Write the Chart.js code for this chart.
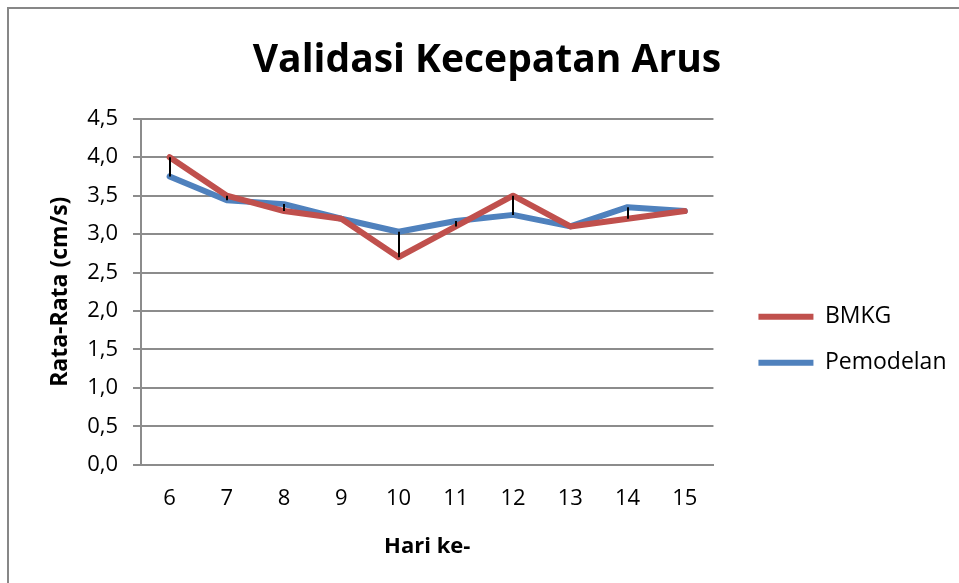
<!DOCTYPE html>
<html>
<head>
<meta charset="utf-8">
<script src="https://cdn.jsdelivr.net/npm/chart.js@4.4.1/dist/chart.umd.min.js"></script>
<style>
  html, body { margin: 0; padding: 0; background: #fff; }
  #wrap { width: 959px; height: 583px; }
</style>
</head>
<body>
<div id="wrap"><canvas id="c" width="959" height="583"></canvas></div>
<script>
const categories = ['6', '7', '8', '9', '10', '11', '12', '13', '14', '15'];
const bmkg       = [4.0, 3.5, 3.3, 3.2, 2.7, 3.1, 3.5, 3.1, 3.2, 3.3];
const pemodelan  = [3.75, 3.44, 3.39, 3.2, 3.03, 3.17, 3.25, 3.1, 3.35, 3.3];
const titleText = 'Validasi Kecepatan Arus';
const yTitle = 'Rata-Rata (cm/s)';
const xTitle = 'Hari ke-';

const FONT = "'Open Sans', 'Liberation Sans', sans-serif";
const GRID = '#8c8c8c';

const frame = {
  id: 'frame',
  beforeDraw(chart) {
    const ctx = chart.ctx;
    ctx.save();
    ctx.fillStyle = '#fff';
    ctx.fillRect(0, 0, chart.width, chart.height);
    ctx.strokeStyle = '#878787';
    ctx.lineWidth = 2;
    ctx.strokeRect(8, 8, chart.width + 20, chart.height + 20);
    ctx.restore();
  }
};

// nudge the legend column: down beside the middle of the plot, and away from the plot
const legendShift = {
  id: 'legendShift',
  afterLayout(chart) {
    const lg = chart.legend;
    if (lg) { lg.top += 55; lg.bottom += 55; lg.left += 22; lg.right += 22; }
  }
};

// High-low lines between the two series, positioned through the chart scales
const hiLow = {
  id: 'hiLow',
  afterDatasetsDraw(chart) {
    const ctx = chart.ctx;
    const xs = chart.scales.x, ys = chart.scales.y;
    ctx.save();
    ctx.strokeStyle = '#000';
    ctx.lineWidth = 2;
    for (let i = 0; i < categories.length; i++) {
      const x = xs.getPixelForValue(i);
      const y1 = ys.getPixelForValue(bmkg[i]);
      const y2 = ys.getPixelForValue(pemodelan[i]);
      if (Math.abs(y1 - y2) < 0.5) continue;
      ctx.beginPath();
      ctx.moveTo(Math.round(x), y1);
      ctx.lineTo(Math.round(x), y2);
      ctx.stroke();
    }
    ctx.restore();
  }
};

new Chart(document.getElementById('c'), {
  type: 'line',
  data: {
    labels: categories,
    datasets: [
      { label: 'BMKG', data: bmkg, borderColor: '#c0504d', backgroundColor: '#c0504d',
        borderWidth: 6, pointRadius: 0, tension: 0, borderCapStyle: 'round', borderJoinStyle: 'round' },
      { label: 'Pemodelan', data: pemodelan, borderColor: '#4f81bd', backgroundColor: '#4f81bd',
        borderWidth: 6, pointRadius: 0, tension: 0, borderCapStyle: 'round', borderJoinStyle: 'round' }
    ]
  },
  options: {
    responsive: false,
    animation: false,
    devicePixelRatio: 1,
    layout: { padding: { left: 39.5, right: 24.5, top: 10, bottom: 23.5 } },
    plugins: {
      tooltip: { enabled: false },
      title: {
        display: true, text: titleText, color: '#000',
        font: { family: FONT, size: 39, weight: 'bold' },
        padding: { top: 27, bottom: 35 }
      },
      legend: {
        position: 'right',
        labels: {
          color: '#000',
          font: { family: FONT, size: 23 },
          boxWidth: 55, boxHeight: 6, padding: 23,
          generateLabels(chart) {
            return chart.data.datasets.map((d, i) => ({
              text: d.label, fillStyle: d.borderColor, strokeStyle: d.borderColor,
              lineWidth: 0, hidden: false, datasetIndex: i, fontColor: '#000'
            }));
          }
        }
      }
    },
    scales: {
      x: {
        offset: true,
        grid: { display: false, drawTicks: false },
        border: { display: true, color: GRID, width: 2 },
        ticks: { color: '#000', font: { family: FONT, size: 22 }, padding: 21 },
        title: { display: true, text: xTitle, color: '#000',
          font: { family: FONT, size: 22, weight: 'bold' }, padding: { top: 0, bottom: 0 } }
      },
      y: {
        min: 0, max: 4.5,
        afterFit(s) { s.width = 101.5; },
        ticks: { stepSize: 0.5, color: '#000', font: { family: FONT, size: 22 }, padding: 15,
          callback: v => v.toFixed(1).replace('.', ',') },
        grid: { color: GRID, lineWidth: 2, tickLength: 8, drawTicks: true },
        border: { display: true, color: GRID, width: 2 },
        title: { display: true, text: yTitle, color: '#000',
          font: { family: FONT, size: 23, weight: 'bold' }, padding: { top: 7, bottom: 0 } }
      }
    }
  },
  plugins: [frame, legendShift, hiLow]
});
</script>
</body>
</html>
